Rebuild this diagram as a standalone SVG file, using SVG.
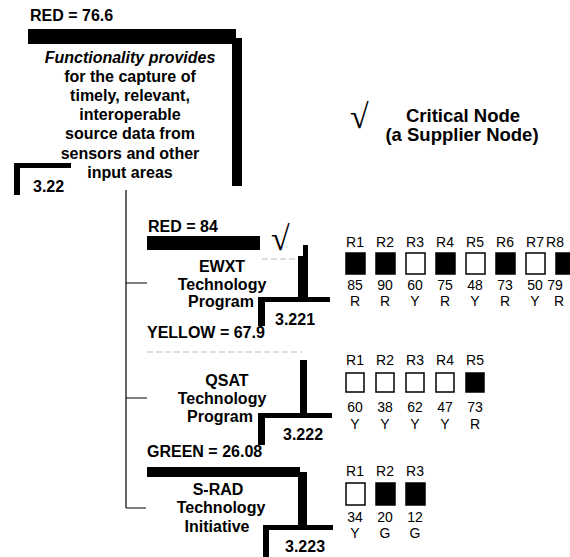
<svg xmlns="http://www.w3.org/2000/svg" width="570" height="557" viewBox="0 0 570 557">
<style>
text{font-family:"Liberation Sans",Arial,sans-serif;fill:#000}
.b{font-weight:bold;font-size:16px}
.t{font-weight:bold;font-size:16px;text-anchor:middle}
.lg{font-weight:bold;font-size:18.5px;text-anchor:middle}
.r{font-size:14px;text-anchor:middle}
.chk{font-family:"Liberation Serif","DejaVu Serif",serif;font-size:34px}
.bar{fill:#000}
.on{fill:#000;stroke:#000;stroke-width:1.5}
.off{fill:#fff;stroke:#000;stroke-width:1.5}
.conn{stroke:#000;stroke-width:1.2;fill:none}
.faint{stroke:#bbb;stroke-width:1;stroke-dasharray:6 3;fill:none}
</style>
<rect width="570" height="557" fill="#fff"/>
<g id="connectors">
<path class="conn" d="M126 190 V508 M126 283 H147 M126 398 H147 M126 508 H146"/>
</g>
<g id="node-3.22">
<text class="b" x="30" y="21">RED = 76.6</text>
<rect class="bar" x="28" y="29" width="208" height="15"/>
<rect class="bar" x="232" y="38" width="10" height="148"/>
<text class="t" x="130" y="63" font-style="italic">Functionality provides</text>
<text class="t" x="130" y="82">for the capture of</text>
<text class="t" x="130" y="101">timely, relevant,</text>
<text class="t" x="130" y="120">interoperable</text>
<text class="t" x="130" y="139">source data from</text>
<text class="t" x="130" y="159">sensors and other</text>
<text class="t" x="130" y="178">input areas</text>
<rect class="bar" x="14" y="163" width="6" height="32"/>
<rect class="bar" x="14" y="163" width="57" height="5"/>
<text class="b" x="33" y="192">3.22</text>
</g>
<g id="legend">
<text class="chk" x="350" y="128">√</text>
<text class="lg" x="463" y="122">Critical Node</text>
<text class="lg" x="462" y="141">(a Supplier Node)</text>
</g>
<g id="node-3.221">
<text class="b" x="148" y="232">RED = 84</text>
<rect class="bar" x="147" y="236" width="113" height="14"/>
<text class="chk" x="271" y="250">√</text>
<path class="faint" d="M262 259 H297"/>
<text class="t" x="222" y="272">EWXT</text>
<text class="t" x="222" y="290">Technology</text>
<text class="t" x="221" y="307">Program</text>
<rect class="bar" x="303" y="245" width="5" height="55"/>
<rect class="bar" x="298" y="256" width="10" height="44"/>
<rect class="bar" x="258" y="297" width="72" height="5"/>
<rect class="bar" x="258" y="297" width="7" height="29"/>
<text class="b" x="275" y="325">3.221</text>
<g id="ratings-3.221">
<text class="r" x="355" y="247">R1</text><rect class="on" x="346" y="253" width="19" height="21"/><text class="r" x="355" y="290">85</text><text class="r" x="355" y="306">R</text>
<text class="r" x="385" y="247">R2</text><rect class="on" x="376" y="253" width="19" height="21"/><text class="r" x="385" y="290">90</text><text class="r" x="385" y="306">R</text>
<text class="r" x="415" y="247">R3</text><rect class="off" x="406" y="253" width="19" height="21"/><text class="r" x="415" y="290">60</text><text class="r" x="415" y="306">Y</text>
<text class="r" x="445" y="247">R4</text><rect class="on" x="436" y="253" width="19" height="21"/><text class="r" x="445" y="290">75</text><text class="r" x="445" y="306">R</text>
<text class="r" x="475" y="247">R5</text><rect class="off" x="466" y="253" width="19" height="21"/><text class="r" x="475" y="290">48</text><text class="r" x="475" y="306">Y</text>
<text class="r" x="505" y="247">R6</text><rect class="on" x="496" y="253" width="19" height="21"/><text class="r" x="505" y="290">73</text><text class="r" x="505" y="306">R</text>
<text class="r" x="535" y="247">R7</text><rect class="off" x="526" y="253" width="19" height="21"/><text class="r" x="535" y="290">50</text><text class="r" x="535" y="306">Y</text>
<text class="r" x="555" y="247" text-anchor="start">R8</text><rect class="on" x="556" y="253" width="19" height="21"/><text class="r" x="555" y="290" text-anchor="start">79</text><text class="r" x="559" y="306" text-anchor="start">R</text>
</g>
</g>
<g id="node-3.222">
<text class="b" x="147" y="338" font-size="14">YELLOW = 67.9</text>
<path class="faint" d="M147 352 H302"/>
<text class="t" x="227" y="386">QSAT</text>
<text class="t" x="222" y="404">Technology</text>
<text class="t" x="220" y="422">Program</text>
<rect class="bar" x="300" y="360" width="7" height="55"/>
<rect class="bar" x="258" y="413" width="74" height="5"/>
<rect class="bar" x="258" y="413" width="7" height="32"/>
<text class="b" x="283" y="440">3.222</text>
<g id="ratings-3.222">
<text class="r" x="355" y="365">R1</text><rect class="off" x="346" y="373" width="18" height="19"/><text class="r" x="355" y="412">60</text><text class="r" x="355" y="429">Y</text>
<text class="r" x="385" y="365">R2</text><rect class="off" x="376" y="373" width="18" height="19"/><text class="r" x="385" y="412">38</text><text class="r" x="385" y="429">Y</text>
<text class="r" x="415" y="365">R3</text><rect class="off" x="406" y="373" width="18" height="19"/><text class="r" x="415" y="412">62</text><text class="r" x="415" y="429">Y</text>
<text class="r" x="445" y="365">R4</text><rect class="off" x="436" y="373" width="18" height="19"/><text class="r" x="445" y="412">47</text><text class="r" x="445" y="429">Y</text>
<text class="r" x="475" y="365">R5</text><rect class="on" x="466" y="373" width="18" height="19"/><text class="r" x="475" y="412">73</text><text class="r" x="475" y="429">R</text>
</g>
</g>
<g id="node-3.223">
<text class="b" x="147" y="457">GREEN = 26.08</text>
<rect class="bar" x="147" y="467" width="153" height="10"/>
<text class="t" x="218" y="495">S-RAD</text>
<text class="t" x="221" y="513">Technology</text>
<text class="t" x="217" y="532">Initiative</text>
<rect class="bar" x="298" y="472" width="9" height="58"/>
<rect class="bar" x="263" y="525" width="70" height="5"/>
<rect class="bar" x="263" y="525" width="6" height="32"/>
<text class="b" x="285" y="552">3.223</text>
<g id="ratings-3.223">
<text class="r" x="355" y="476">R1</text><rect class="off" x="346" y="483" width="19" height="22"/><text class="r" x="355" y="522">34</text><text class="r" x="355" y="538">Y</text>
<text class="r" x="385" y="476">R2</text><rect class="on" x="376" y="483" width="19" height="22"/><text class="r" x="385" y="522">20</text><text class="r" x="385" y="538">G</text>
<text class="r" x="415" y="476">R3</text><rect class="on" x="406" y="483" width="19" height="22"/><text class="r" x="415" y="522">12</text><text class="r" x="415" y="538">G</text>
</g>
</g>
</svg>
